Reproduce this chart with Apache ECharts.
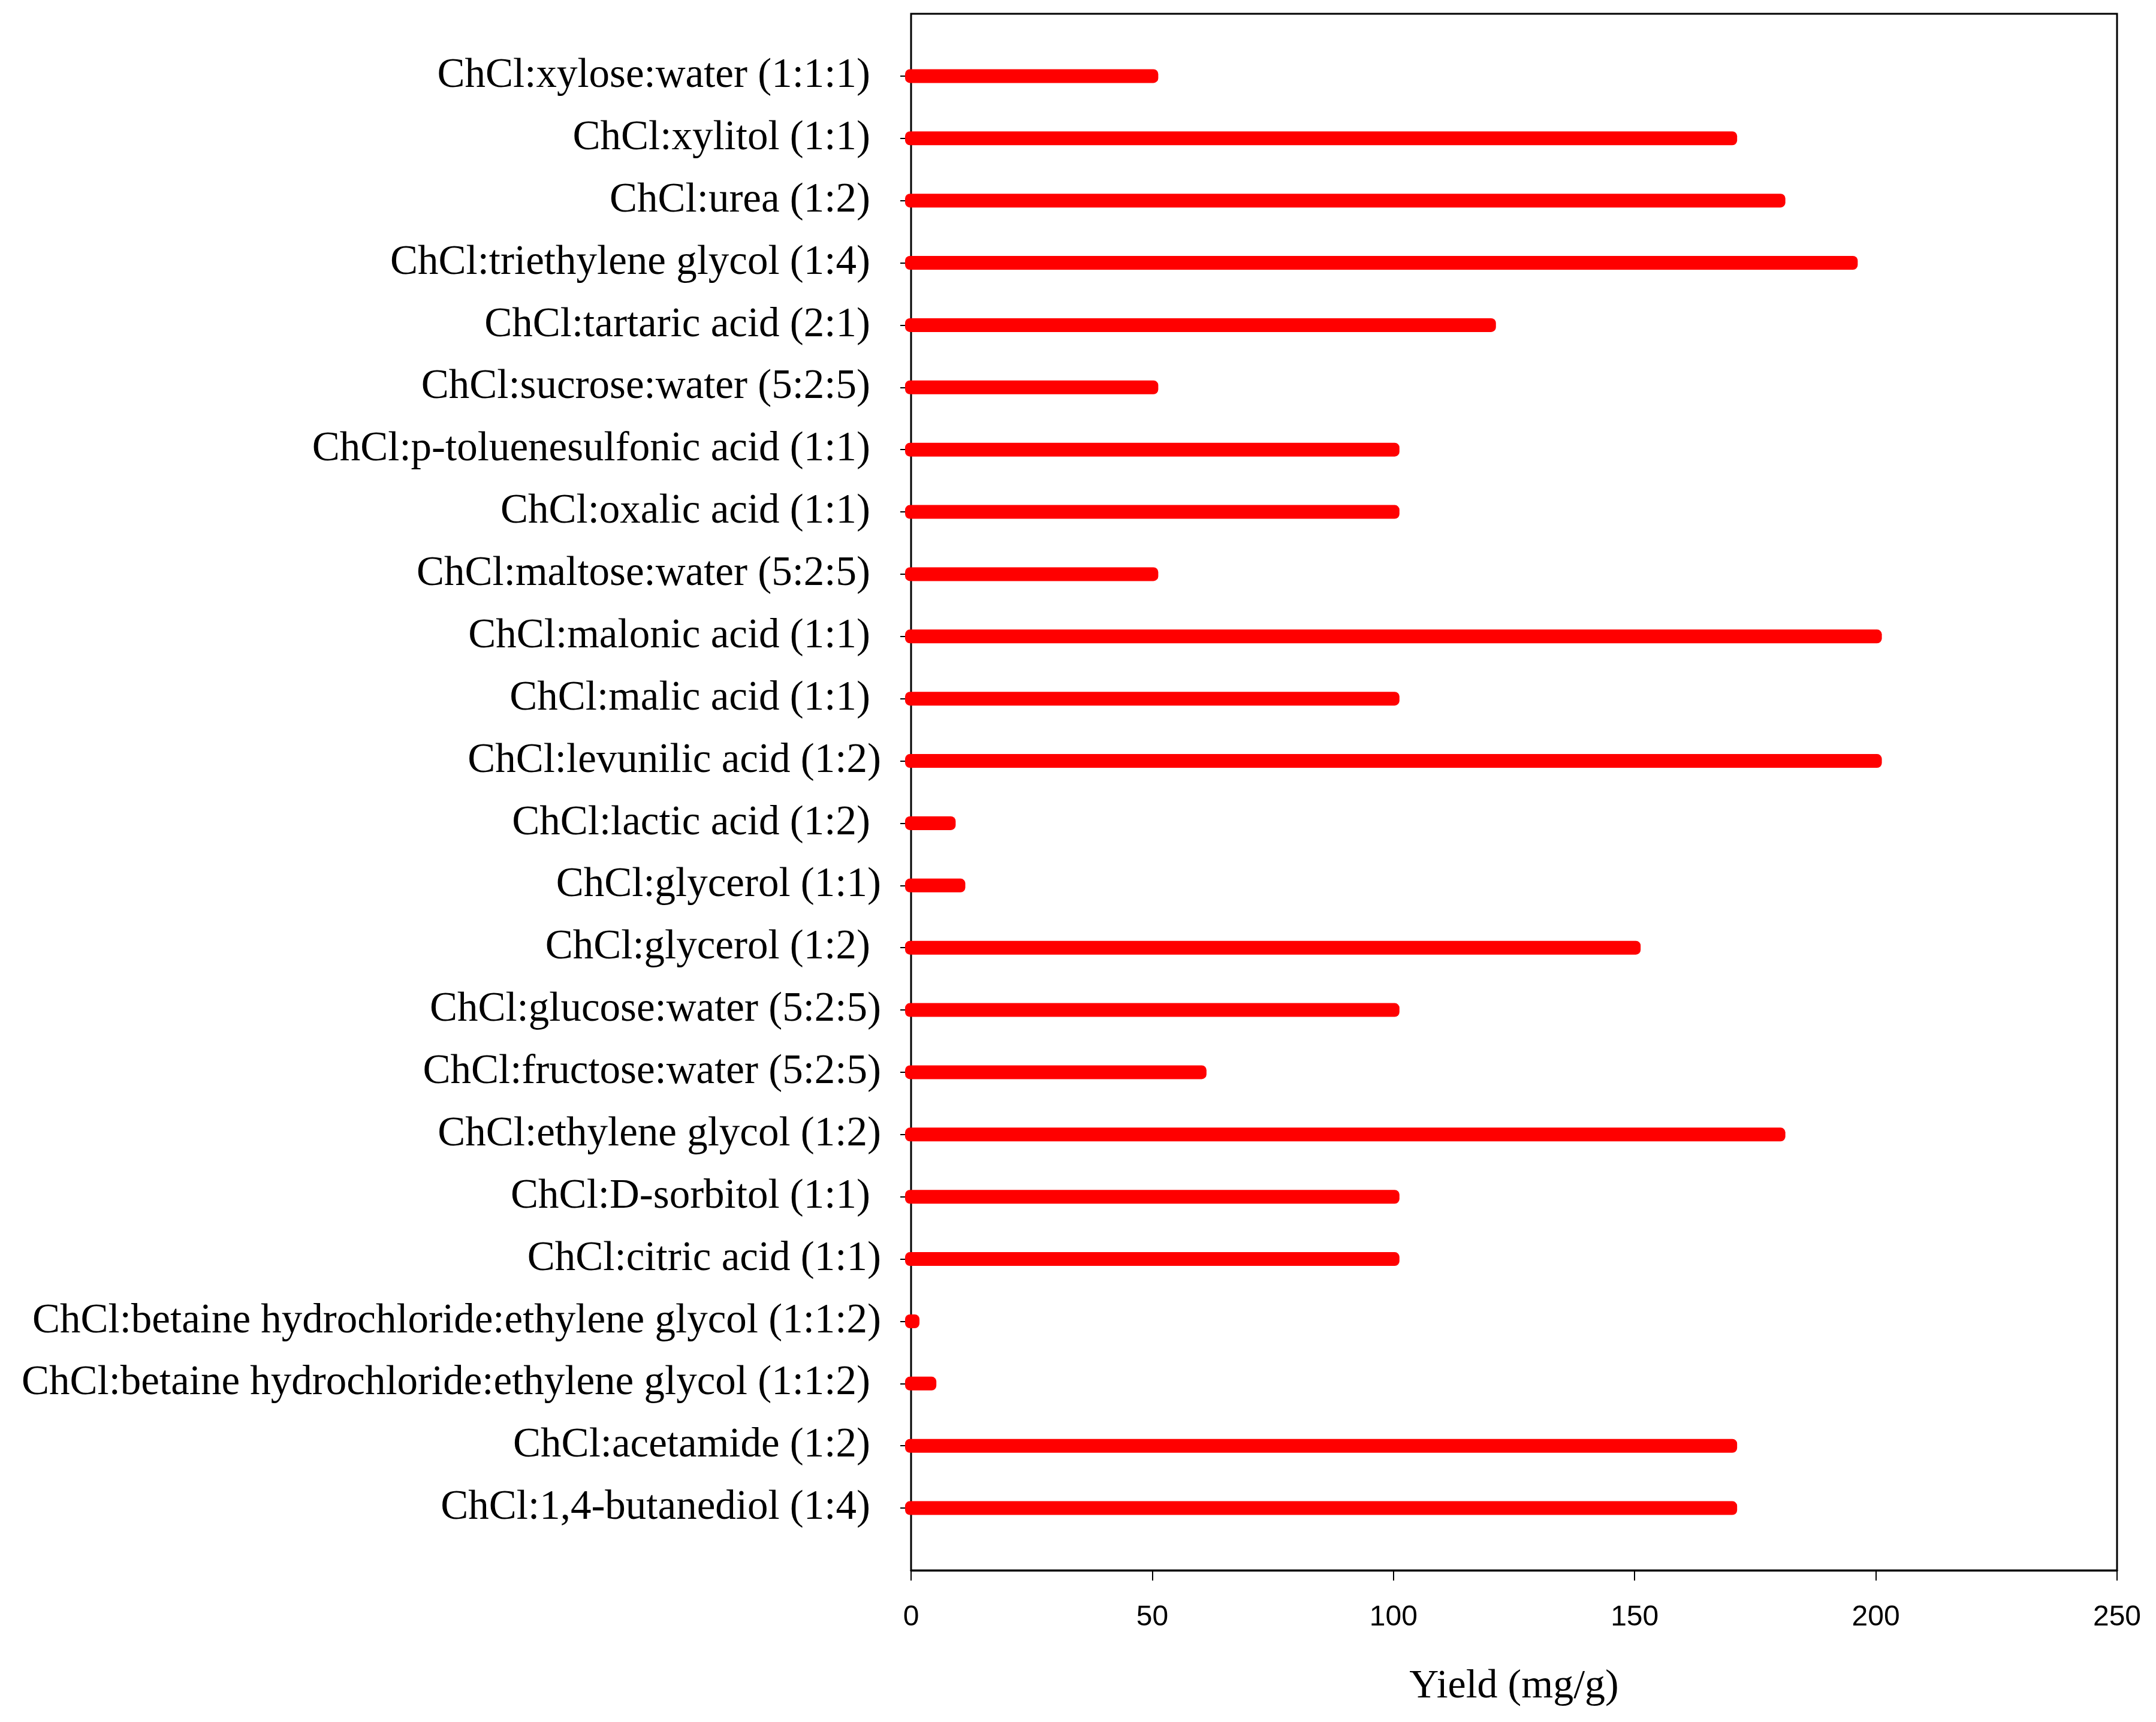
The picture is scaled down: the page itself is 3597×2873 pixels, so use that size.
<!DOCTYPE html>
<html>
<head>
<meta charset="utf-8">
<script src="https://cdn.jsdelivr.net/npm/echarts@6/dist/echarts.min.js"></script>
<style>
  html, body { margin: 0; padding: 0; background: #fff; }
  #chart { width: 3597px; height: 2873px; }
</style>
</head>
<body>
<div id="chart"></div>
<script>
// ---- data (top to bottom) ----
const categories = [
  'ChCl:xylose:water (1:1:1)',
  'ChCl:xylitol (1:1)',
  'ChCl:urea (1:2)',
  'ChCl:triethylene glycol (1:4)',
  'ChCl:tartaric acid (2:1)',
  'ChCl:sucrose:water (5:2:5)',
  'ChCl:p-toluenesulfonic acid (1:1)',
  'ChCl:oxalic acid (1:1)',
  'ChCl:maltose:water (5:2:5)',
  'ChCl:malonic acid (1:1)',
  'ChCl:malic acid (1:1)',
  'ChCl:levunilic acid (1:2)',
  'ChCl:lactic acid (1:2)',
  'ChCl:glycerol (1:1)',
  'ChCl:glycerol (1:2)',
  'ChCl:glucose:water (5:2:5)',
  'ChCl:fructose:water (5:2:5)',
  'ChCl:ethylene glycol (1:2)',
  'ChCl:D-sorbitol (1:1)',
  'ChCl:citric acid (1:1)',
  'ChCl:betaine hydrochloride:ethylene glycol (1:1:2)',
  'ChCl:betaine hydrochloride:ethylene glycol (1:1:2)',
  'ChCl:acetamide (1:2)',
  'ChCl:1,4-butanediol (1:4)'
];
const yieldValues = [50, 170, 180, 195, 120, 50, 100, 100, 50, 200, 100, 200, 8, 10, 150, 100, 60, 180, 100, 100, 0.5, 4, 170, 170];
const xTicks = [0, 50, 100, 150, 200, 250];
const xAxisTitle = 'Yield (mg/g)';

// ---- layout / style ----
// labels that sit slightly further right in the original figure (category index within padded axis)
const shiftedLabelNames = new Set([12, 14, 16, 17, 18, 20, 21]);

const yAxisData = [''].concat(categories, ['']);
const seriesData = yieldValues.map((v, i) => [v, i + 1]);

const chart = echarts.init(document.getElementById('chart'), null, { renderer: 'canvas' });

const serif = '"Liberation Serif", "Times New Roman", serif';
const sans = '"Liberation Sans", Arial, sans-serif';
const labelSize = 69;

const option = {
  backgroundColor: '#ffffff',
  animation: false,
  grid: {
    left: 1520, right: 65, top: 23, bottom: 253,
    containLabel: false,
    outerBoundsMode: 'none',
    show: true, borderColor: '#000', borderWidth: 3, backgroundColor: 'transparent'
  },
  xAxis: {
    type: 'value',
    min: xTicks[0],
    max: xTicks[xTicks.length - 1],
    interval: 50,
    name: xAxisTitle,
    nameLocation: 'middle',
    nameGap: 160,
    nameTextStyle: { fontFamily: serif, fontSize: 68, color: '#000' },
    axisLine: { show: true, lineStyle: { color: '#000', width: 3 } },
    axisTick: { show: true, inside: false, length: 17, lineStyle: { color: '#000', width: 2 } },
    axisLabel: { margin: 55, fontFamily: sans, fontSize: 48, color: '#000' },
    splitLine: { show: false }
  },
  yAxis: {
    type: 'category',
    data: yAxisData,
    inverse: true,
    boundaryGap: false,
    axisLine: { show: true, lineStyle: { color: '#000', width: 2 } },
    axisTick: {
      show: true, inside: false, length: 18,
      interval: function (index, value) { return value !== ''; },
      lineStyle: { color: '#000', width: 2 }
    },
    axisLabel: {
      interval: 0,
      margin: 50,
      fontFamily: serif,
      fontSize: labelSize,
      color: '#000',
      formatter: function (value, index) {
        if (value === '') return '';
        return shiftedLabelNames.has(index) ? '{s|' + value + '}' : '{n|' + value + '}';
      },
      rich: {
        n: { fontFamily: serif, fontSize: labelSize, color: '#000', padding: [0, 18, 0, 0] },
        s: { fontFamily: serif, fontSize: labelSize, color: '#000' }
      }
    },
    splitLine: { show: false }
  },
  series: [{
    type: 'custom',
    data: seriesData,
    encode: { x: 0, y: 1 },
    clip: false,
    renderItem: function (params, api) {
      const v = api.value(0);
      const idx = api.value(1);
      const p0 = api.coord([0, idx]);
      const p1 = api.coord([v, idx]);
      const cap = 10, h = 23;
      return {
        type: 'rect',
        shape: { x: p0[0] - cap, y: p0[1] - h / 2, width: (p1[0] - p0[0]) + 2 * cap, height: h, r: 8 },
        style: { fill: '#FF0000' }
      };
    },
    z: 1
  }]
};

chart.setOption(option);
</script>
</body>
</html>
